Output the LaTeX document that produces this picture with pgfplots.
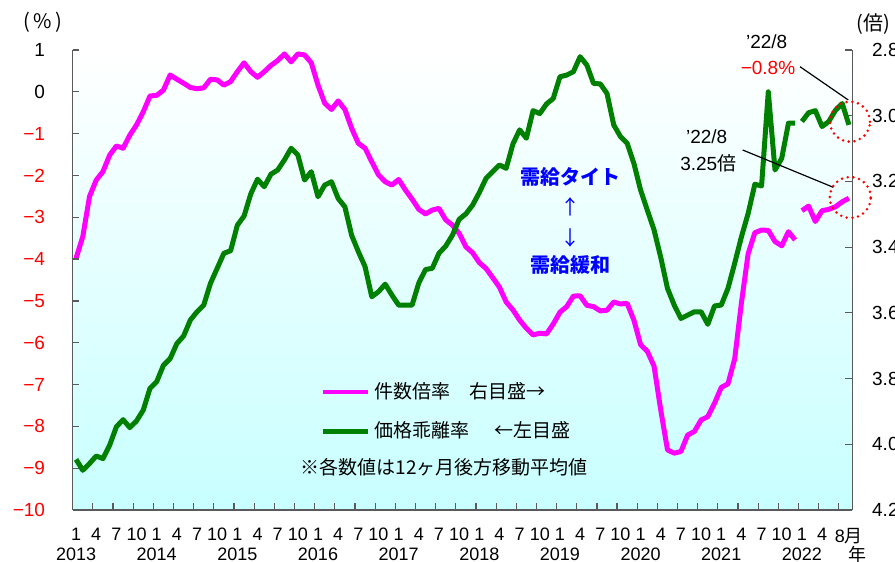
\documentclass[border=0pt]{standalone}
\usepackage{fontspec}
\setmainfont{Liberation Sans}
\newfontfamily\jp{Noto Sans CJK JP}
\usepackage{pgfplots}
\pgfplotsset{compat=1.18}
\usepackage{pgfplotstable}
\definecolor{mag}{RGB}{255,0,255}
\definecolor{grn}{RGB}{0,128,0}
\definecolor{axgray}{RGB}{90,90,90}
\definecolor{bgcyan}{RGB}{200,255,255}
\definecolor{pured}{RGB}{255,0,0}

\pgfplotstableread{
m r
0 3.434
1 3.368
2 3.246
3 3.196
4 3.170
5 3.120
6 3.092
7 3.099
8 3.059
9 3.028
10 2.988
11 2.940
12 2.938
13 2.922
14 2.876
15 2.889
16 2.901
17 2.914
18 2.918
19 2.915
20 2.889
21 2.891
22 2.907
23 2.896
24 2.866
25 2.839
26 2.866
27 2.883
28 2.866
29 2.847
30 2.832
31 2.812
32 2.836
33 2.812
34 2.815
35 2.839
36 2.907
37 2.962
38 2.981
39 2.955
40 2.981
41 3.038
42 3.084
43 3.099
44 3.140
45 3.180
46 3.201
47 3.211
48 3.194
49 3.226
50 3.254
51 3.285
52 3.299
53 3.287
54 3.282
55 3.317
56 3.333
57 3.358
58 3.399
59 3.417
60 3.447
61 3.465
62 3.493
63 3.522
64 3.567
65 3.591
66 3.622
67 3.647
68 3.667
69 3.662
70 3.664
71 3.634
72 3.598
73 3.581
74 3.549
75 3.548
76 3.577
77 3.581
78 3.594
79 3.592
80 3.567
81 3.573
82 3.571
83 3.622
84 3.697
85 3.717
86 3.762
87 3.896
88 4.017
89 4.027
90 4.022
91 3.972
92 3.961
93 3.926
94 3.916
95 3.875
96 3.827
97 3.816
98 3.740
99 3.570
100 3.420
101 3.356
102 3.348
103 3.349
104 3.383
105 3.396
106 3.353
107 3.378
107.5 nan
108 3.289
109 3.275
110 3.322
111 3.289
112 3.285
113 3.277
114 3.262
115 3.251
}\magdata

\pgfplotstableread{
m v
0 -8.79
1 -9.05
2 -8.89
3 -8.71
4 -8.77
5 -8.45
6 -8.01
7 -7.84
8 -8.03
9 -7.87
10 -7.61
11 -7.09
12 -6.93
13 -6.54
14 -6.38
15 -6.02
16 -5.84
17 -5.46
18 -5.26
19 -5.10
20 -4.58
21 -4.22
22 -3.86
23 -3.80
24 -3.19
25 -2.97
26 -2.44
27 -2.09
28 -2.27
29 -1.97
30 -1.87
31 -1.63
32 -1.35
33 -1.51
34 -2.11
35 -1.91
36 -2.51
37 -2.23
38 -2.15
39 -2.55
40 -2.75
41 -3.43
42 -3.82
43 -4.18
44 -4.90
45 -4.78
46 -4.60
47 -4.86
48 -5.10
49 -5.10
50 -5.10
51 -4.57
52 -4.25
53 -4.22
54 -3.86
55 -3.69
56 -3.43
57 -3.05
58 -2.92
59 -2.71
60 -2.41
61 -2.07
62 -1.91
63 -1.75
64 -1.83
65 -1.25
66 -0.91
67 -1.11
68 -0.45
69 -0.52
70 -0.29
71 -0.16
72 0.36
73 0.40
74 0.48
75 0.84
76 0.64
77 0.20
78 0.19
79 -0.04
80 -0.79
81 -1.07
82 -1.23
83 -1.71
84 -2.35
85 -2.83
86 -3.30
87 -3.96
88 -4.70
89 -5.10
90 -5.42
91 -5.34
92 -5.26
93 -5.26
94 -5.56
95 -5.12
96 -5.10
97 -4.70
98 -4.10
99 -3.47
100 -2.91
101 -2.21
102 -2.25
103 0.00
104 -1.87
105 -1.59
106 -0.75
107 -0.75
107.5 nan
108 -0.71
109 -0.50
110 -0.45
111 -0.83
112 -0.71
113 -0.44
114 -0.28
115 -0.79
}\grndata

\begin{document}
\begin{tikzpicture}
\path[use as bounding box] (-36.35pt,-26pt) rectangle (411.15pt,255pt);

% right axis (magenta), drawn first with the background
\begin{axis}[
  at={(0pt,0pt)}, anchor=south west, scale only axis,
  width=389.8pt, height=230pt,
  xmin=-0.5, xmax=115.5,
  ymin=2.8, ymax=4.2, y dir=reverse,
  axis x line=none, axis y line*=right,
  axis line style={axgray, line width=0.8pt},
  axis background/.style={top color=white, bottom color=bgcyan},
  ytick={2.8,3.0,3.2,3.4,3.6,3.8,4.0,4.2},
  yticklabels={2.8,3.0,3.2,3.4,3.6,3.8,4.0,4.2},
  minor ytick={2.8,3.0,3.2,3.4,3.6,3.8,4.0,4.2},
  tick align=inside, major tick length=0pt, minor tick length=3.6pt,
  every minor tick/.style={axgray, line width=0.6pt},
  yticklabel style={font=\fontsize{9.5}{10}\selectfont, xshift=6.4pt},
  unbounded coords=jump,
]
\addplot[mag, line width=2.5pt, line join=round] table[x=m,y=r]{\magdata};
\end{axis}

% left axis (green)
\begin{axis}[
  at={(0pt,0pt)}, anchor=south west, scale only axis,
  width=389.8pt, height=230pt,
  xmin=-0.5, xmax=115.5, ymin=-10, ymax=1,
  axis x line*=bottom, axis y line*=left,
  axis line style={axgray, line width=0.8pt},
  ytick={-10,-9,...,1},
  yticklabels={\textcolor{pured}{−10},\textcolor{pured}{−9},\textcolor{pured}{−8},\textcolor{pured}{−7},\textcolor{pured}{−6},\textcolor{pured}{−5},\textcolor{pured}{−4},\textcolor{pured}{−3},\textcolor{pured}{−2},\textcolor{pured}{−1},0,1},
  minor ytick={-10,-9,...,1},
  xtick={0,3,...,111,115},
  xticklabels={{1\\2013},4,7,10,{1\\2014},4,7,10,{1\\2015},4,7,10,{1\\2016},4,7,10,{1\\2017},4,7,10,{1\\2018},4,7,10,{1\\2019},4,7,10,{1\\2020},4,7,10,{1\\2021},4,7,10,{1\\2022},4,{8{\jp 月}}},
  minor xtick={-0.5,2.5,...,113.5},
  tick align=inside, major tick length=0pt, minor tick length=3.4pt,
  every minor tick/.style={axgray, line width=0.6pt},
  yticklabel style={font=\fontsize{9.5}{10}\selectfont, xshift=-10.3pt},
  xticklabel style={font=\fontsize{9}{9.85}\selectfont, align=center, yshift=-5.5pt},
  unbounded coords=jump,
  legend style={draw=none, fill=none, inner sep=0pt,
    at={(axis description cs:0.3175,0.2140)}, anchor=west,
    font=\jp\fontsize{9.5}{11}\selectfont, row sep=6pt},
  legend cell align=left,
  legend image code/.code={\draw[#1] (0pt,0pt) -- (22.5pt,0pt);},
]
\addlegendimage{mag, line width=2pt}
\addlegendentry{件数倍率　右目盛→}
\addplot[grn, line width=2.5pt, line join=round] table[x=m,y=v]{\grndata};
\addlegendentry{価格乖離率\hspace{12.5pt}←左目盛}
\end{axis}

% notes and annotations
\node[anchor=west, inner sep=0pt, font=\jp\fontsize{9.5}{11}\selectfont] at (113.7pt,21.2pt) {※各数値は12ヶ月後方移動平均値};
\node[font=\jp\bfseries\fontsize{10}{12}\selectfont, text=blue] at (248.65pt,166.65pt) {需給タイト};
\node[font=\jp\fontsize{10}{12}\selectfont, text=blue] at (249pt,151.5pt) {↑};
\node[font=\jp\fontsize{10}{12}\selectfont, text=blue] at (249pt,136.25pt) {↓};
\node[font=\jp\bfseries\fontsize{10}{12}\selectfont, text=blue] at (248.65pt,122.5pt) {需給緩和};

\node[font=\fontsize{9.5}{11}\selectfont] at (347pt,234.15pt) {’22/8};
\node[font=\fontsize{9.5}{11}\selectfont, text=pured] at (347.65pt,220.85pt) {−0.8\%};
\draw[black, line width=0.6pt] (363.65pt,221.65pt) -- (387.8pt,205pt);
\draw[pured, line width=1.4pt, line cap=round, dash pattern=on 0pt off 2.9pt] (388.65pt,194.15pt) circle (10pt);

\node[font=\fontsize{9.5}{11}\selectfont] at (317pt,186.65pt) {’22/8};
\node[font=\fontsize{9.5}{11}\selectfont] at (317.8pt,173.35pt) {3.25{\jp 倍}};
\draw[black, line width=0.6pt] (335pt,180pt) -- (380.3pt,161.35pt);
\draw[pured, line width=1.4pt, line cap=round, dash pattern=on 0pt off 2.9pt] (388.8pt,156.25pt) circle (10.25pt);

\node[font=\jp\fontsize{10}{12}\selectfont] at (-15.1pt,243.7pt) {(\,\%\,)};
\node[font=\jp\fontsize{10}{12}\selectfont] at (400.2pt,243pt) {(倍)};
\node[font=\jp\fontsize{9}{10}\selectfont] at (392.4pt,-22.4pt) {年};
\end{tikzpicture}
\end{document}
